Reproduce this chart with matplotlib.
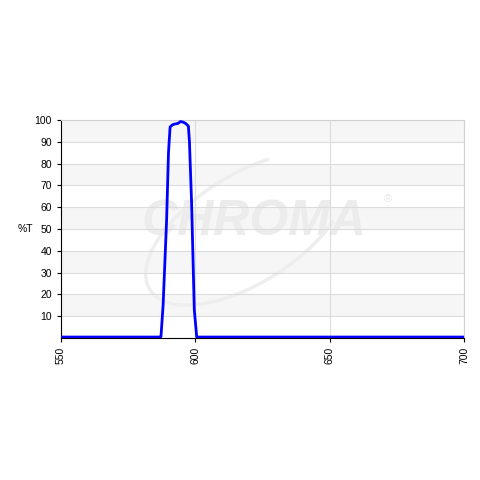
import matplotlib
matplotlib.use("Agg")
import matplotlib.pyplot as plt
from matplotlib.patches import Arc

wavelength = [550, 560, 570, 580, 586, 587.2, 588, 589.3, 590, 590.6, 591.5, 592.5, 593.5, 594.5, 595.5, 596.5, 597.4, 597.8, 598.6, 599.6, 600.5, 601, 610, 650, 700]
transmission = [0.4, 0.4, 0.4, 0.4, 0.4, 0.5, 15, 54, 85, 96.8, 97.8, 98.2, 98.4, 99.3, 99.0, 98.3, 97.2, 90, 62, 13, 0.5, 0.4, 0.4, 0.4, 0.4]
y_ticks = [10, 20, 30, 40, 50, 60, 70, 80, 90, 100]
x_ticks = [550, 600, 650, 700]

plt.rcParams['font.family'] = ['Liberation Sans', 'DejaVu Sans']
fig = plt.figure(figsize=(4.8, 4.8), dpi=100)
ax = fig.add_axes([0.127, 0.296, 0.84, 0.454])
ax.set_xlim(550, 700)
ax.set_ylim(0, 100)

for i in range(10):
    if i % 2 == 1:
        ax.axhspan(i * 10, i * 10 + 10, color='#f6f6f6', zorder=0, lw=0)

ax.set_yticks(y_ticks)
ax.set_xticks(x_ticks)
ax.set_xticklabels([str(v) for v in x_ticks], rotation=90)
ax.tick_params(axis='both', labelsize=7.5, colors='black', length=3, width=0.8)
ax.grid(True, color='#dcdcdc', lw=0.8, zorder=1)
for s in ['top', 'right']:
    ax.spines[s].set_color('#d0d0d0')
ax.spines['left'].set_color('black')
ax.spines['bottom'].set_color('black')

# watermark
ax.text(0.48, 0.53, 'CHROMA', transform=ax.transAxes, fontsize=36, fontweight='bold',
        fontstyle='italic', color='#ececec', ha='center', va='center', zorder=1.5)
ax.text(0.81, 0.635, '®', transform=ax.transAxes, fontsize=8, color='#e8e8e8',
        ha='center', va='center', zorder=1.5)
arc = Arc((0.46, 0.50), 0.36, 0.78, angle=-30, theta1=110, theta2=400,
          transform=ax.transAxes, color='#eeeeee', lw=2.5, zorder=1.5)
ax.add_patch(arc)

ax.plot(wavelength, transmission, color='#0000ff', lw=2, zorder=3)
fig.text(25 / 480, 1 - 229 / 480, '%T', fontsize=7.5, ha='center', va='center')

fig.savefig('out.png', dpi=100, facecolor='white')
